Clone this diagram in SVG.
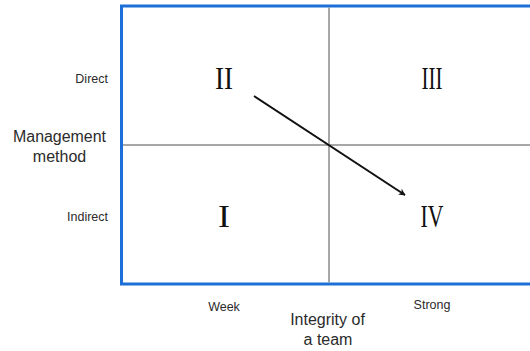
<svg xmlns="http://www.w3.org/2000/svg" width="530" height="351" viewBox="0 0 530 351">
<defs>
<style>
.lbl{font-family:"Liberation Sans",Arial,sans-serif;fill:#2b2b2b}
.sm{font-size:12.5px}
.md{font-size:16px}
.num{font-family:"Liberation Serif","Times New Roman",serif;font-size:32px;fill:#111}
.div{stroke:#8a8a8a;stroke-width:1.5;fill:none}
</style>
<marker id="ah" viewBox="0 0 10 10" refX="9" refY="5" markerWidth="7" markerHeight="7" orient="auto" markerUnits="userSpaceOnUse">
<path d="M0,0 L10,5 L0,10 L3,5 Z" fill="#111"/>
</marker>
</defs>
<rect width="530" height="351" fill="#fff"/>
<g id="frame">
<rect x="121.5" y="6" width="460" height="278" fill="none" stroke="#1c6fd6" stroke-width="3"/>
<line class="div" x1="329" y1="7.5" x2="329" y2="282.5"/>
<line class="div" x1="123" y1="145" x2="530" y2="145"/>
</g>
<g id="connectors">
<line x1="254" y1="96" x2="405" y2="195" stroke="#111" stroke-width="2" marker-end="url(#ah)"/>
</g>
<g id="q2"><text class="num" x="224" y="89" text-anchor="middle" textLength="18" lengthAdjust="spacingAndGlyphs">II</text></g>
<g id="q3"><text class="num" x="432" y="89" text-anchor="middle" textLength="21" lengthAdjust="spacingAndGlyphs">III</text></g>
<g id="q1"><text class="num" x="224" y="227" text-anchor="middle" textLength="12" lengthAdjust="spacingAndGlyphs">I</text></g>
<g id="q4"><text class="num" x="432" y="227" text-anchor="middle" textLength="23" lengthAdjust="spacingAndGlyphs">IV</text></g>
<g id="labels">
<text class="lbl sm" x="108" y="83" text-anchor="end">Direct</text>
<text class="lbl sm" x="108" y="221" text-anchor="end">Indirect</text>
<text class="lbl md" x="59.5" y="142" text-anchor="middle" textLength="93" lengthAdjust="spacingAndGlyphs">Management</text>
<text class="lbl md" x="59.5" y="162" text-anchor="middle">method</text>
<text class="lbl sm" x="224" y="311" text-anchor="middle">Week</text>
<text class="lbl sm" x="432" y="309" text-anchor="middle">Strong</text>
<text class="lbl md" x="327.5" y="325" text-anchor="middle">Integrity of</text>
<text class="lbl md" x="328" y="345" text-anchor="middle">a team</text>
</g>
</svg>
